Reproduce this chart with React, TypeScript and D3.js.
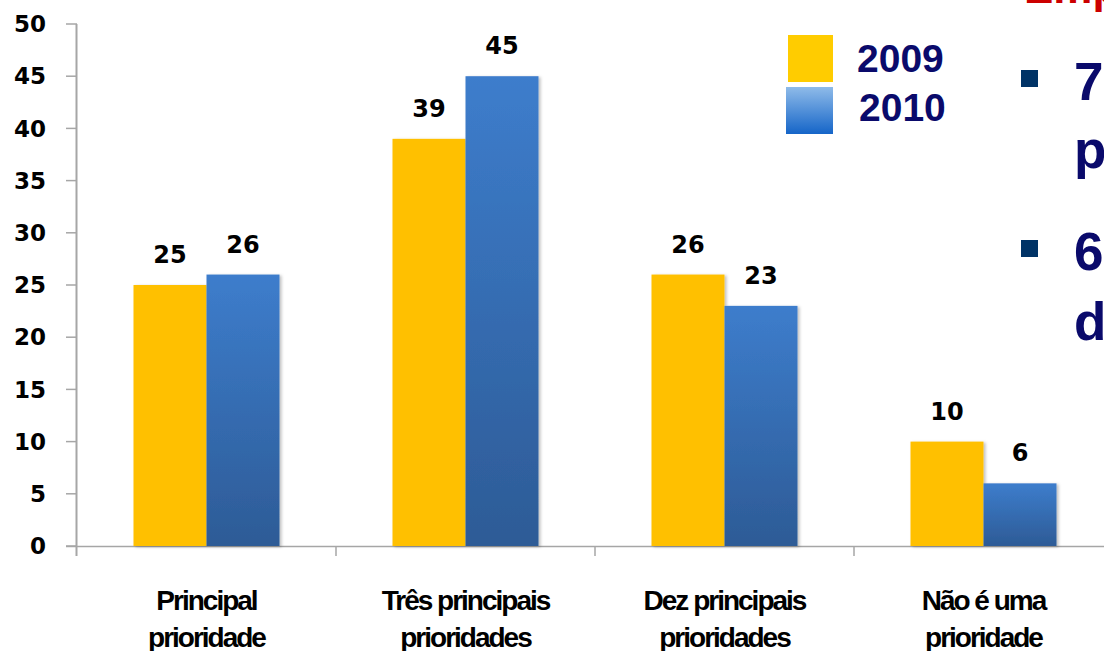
import React from "react";
import * as d3 from "d3";

const categories = [
  ["Principal", "prioridade"],
  ["Três principais", "prioridades"],
  ["Dez principais", "prioridades"],
  ["Não é uma", "prioridade"],
];
const series = ["2009", "2010"];
const values2009 = [25, 39, 26, 10];
const values2010 = [26, 45, 23, 6];
const yTicks = [0, 5, 10, 15, 20, 25, 30, 35, 40, 45, 50];

const W = 1104;
const H = 651;

export default function App() {
  const catKeys = categories.map((c) => c.join(" "));
  const x = d3.scaleBand<string>().domain(catKeys).range([77, 1113]).padding(0);
  const xs = d3
    .scaleBand<string>()
    .domain(series)
    .range([0, x.bandwidth()])
    .paddingInner(0)
    .paddingOuter(0.774);
  const y = d3.scaleLinear().domain([0, 50]).range([546, 24]);
  const data = [values2009, values2010];

  const labelFont = "'DejaVu Sans', Verdana, sans-serif";
  const catFont = "'Liberation Sans', Arial, sans-serif";

  return (
    <svg
      width={W}
      height={H}
      style={{ position: "absolute", left: 0, top: 0, background: "#fff" }}
    >
      <defs>
        <linearGradient id="blueBar" x1="0" y1="0" x2="0" y2="1">
          <stop offset="0%" stopColor="#3d7dcc" />
          <stop offset="100%" stopColor="#2d5b96" />
        </linearGradient>
        <linearGradient id="blueLeg" x1="0" y1="0" x2="0" y2="1">
          <stop offset="0%" stopColor="#8fbbe9" />
          <stop offset="100%" stopColor="#1565c8" />
        </linearGradient>
        <filter id="shadow" x="-10%" y="-10%" width="130%" height="130%">
          <feDropShadow dx="2" dy="1" stdDeviation="1.5" floodColor="#000" floodOpacity="0.25" />
        </filter>
      </defs>

      {/* y axis */}
      <line x1={76.5} x2={76.5} y1={y(50)} y2={556} stroke="#a6a6a6" strokeWidth={2} />
      {yTicks.map((t) => (
        <g key={t}>
          <line x1={66} x2={77} y1={y(t)} y2={y(t)} stroke="#a6a6a6" strokeWidth={1.5} />
          <text
            x={46}
            y={y(t)}
            dy="0.36em"
            textAnchor="end"
            fontFamily={labelFont}
            fontWeight="bold"
            fontSize={23}
            fill="#000"
          >
            {t}
          </text>
        </g>
      ))}

      {/* x axis */}
      <line x1={66} x2={W} y1={546.5} y2={546.5} stroke="#a6a6a6" strokeWidth={1.5} />
      {catKeys.map((k) => (
        <line
          key={k}
          x1={x(k)! + x.bandwidth()}
          x2={x(k)! + x.bandwidth()}
          y1={546}
          y2={556}
          stroke="#a6a6a6"
          strokeWidth={1.5}
        />
      ))}

      {/* bars */}
      {catKeys.map((k, i) => (
        <g key={k} transform={`translate(${x(k)},0)`}>
          {series.map((s, j) => {
            const v = data[j][i];
            const bx = xs(s)!;
            return (
              <g key={s}>
                <rect
                  x={bx}
                  y={y(v)}
                  width={xs.bandwidth()}
                  height={y(0) - y(v)}
                  fill={j === 0 ? "#ffc000" : "url(#blueBar)"}
                  filter="url(#shadow)"
                />
                <text
                  x={bx + xs.bandwidth() / 2}
                  y={y(v) - 22}
                  textAnchor="middle"
                  fontFamily={labelFont}
                  fontWeight="bold"
                  fontSize={24}
                  fill="#000"
                >
                  {v}
                </text>
              </g>
            );
          })}
          {categories[i].map((line, li) => (
            <text
              key={li}
              x={x.bandwidth() / 2}
              y={610 + li * 37}
              textAnchor="middle"
              fontFamily={catFont}
              fontWeight="bold"
              fontSize={28}
              letterSpacing={-2}
              fill="#000"
            >
              {line}
            </text>
          ))}
        </g>
      ))}

      {/* legend */}
      <rect x={788} y={35} width={45} height={47} fill="#ffcc00" />
      <rect x={786} y={87} width={47} height={47} fill="url(#blueLeg)" />
      <text x={857} y={72} fontFamily="'Liberation Sans', Arial, sans-serif" fontWeight="bold" fontSize={39} fill="#0a0a6b">
        {series[0]}
      </text>
      <text x={859} y={121} fontFamily="'Liberation Sans', Arial, sans-serif" fontWeight="bold" fontSize={39} fill="#0a0a6b">
        {series[1]}
      </text>

      {/* slide text on the right (cut off) */}
      <text x={1024} y={3} fontFamily="'Liberation Sans', Arial, sans-serif" fontWeight="bold" fontSize={44} fill="#cc0000">
        Emp
      </text>
      <rect x={1021} y={70} width={17} height={17} fill="#003366" />
      <rect x={1021} y={240} width={17} height={17} fill="#003366" />
      <text x={1074} y={100} fontFamily="'Liberation Sans', Arial, sans-serif" fontWeight="bold" fontSize={53} fill="#0a0a6b">7</text>
      <text x={1074} y={168} fontFamily="'Liberation Sans', Arial, sans-serif" fontWeight="bold" fontSize={53} fill="#0a0a6b">p</text>
      <text x={1074} y={270} fontFamily="'Liberation Sans', Arial, sans-serif" fontWeight="bold" fontSize={53} fill="#0a0a6b">6</text>
      <text x={1074} y={340} fontFamily="'Liberation Sans', Arial, sans-serif" fontWeight="bold" fontSize={53} fill="#0a0a6b">d</text>
    </svg>
  );
}
